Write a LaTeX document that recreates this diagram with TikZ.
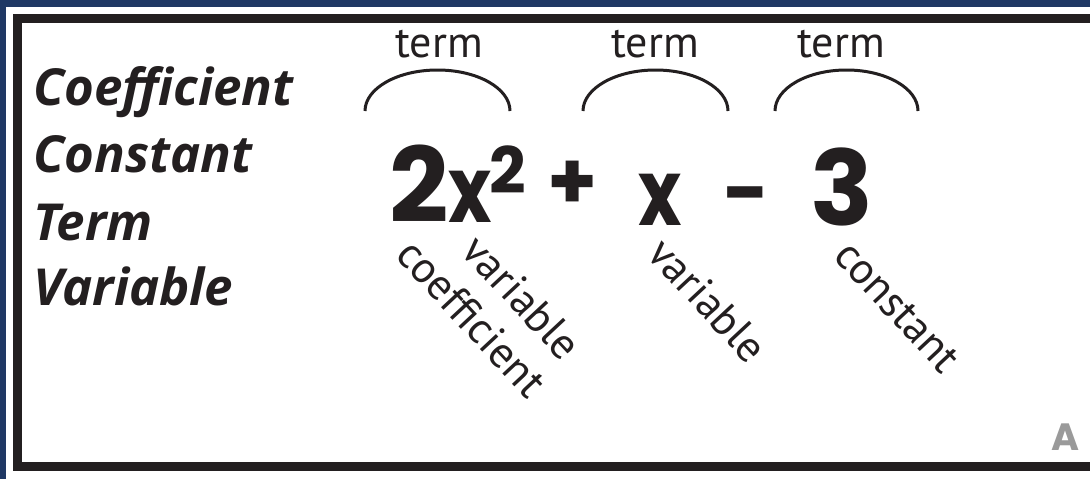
\documentclass[tikz,border=0pt]{standalone}
\usepackage{fontspec}
\setmainfont{PT Sans}
\newfontfamily\keyfont{Open Sans}
\newfontfamily\handfont{Poppins}
\usetikzlibrary{positioning}
\definecolor{navy}{HTML}{1F3864}
\definecolor{ink}{HTML}{231F20}
\definecolor{pagegray}{HTML}{9A9A9A}

\begin{document}
\begin{tikzpicture}[x=1pt, y=-1pt,
  keyword/.style={font=\fontsize{51}{57}\selectfont\keyfont\bfseries\itshape, text=ink, inner sep=0pt, anchor=base west},
  termlabel/.style={font=\fontsize{44}{50}\selectfont, text=ink, inner sep=0pt, anchor=base},
  partlabel/.style={font=\fontsize{44}{50}\selectfont, text=ink, inner sep=0pt, rotate=-47},
  hand/.style={font=\fontsize{#1}{#1}\selectfont\handfont\bfseries, text=ink, inner sep=0pt}]
  \useasboundingbox (0,0) rectangle (1090,479);

  % Page and frame
  \fill[navy] (0,0) rectangle (1090,479);
  \fill[white] (6,7) rectangle (1090,479);
  \draw[ink, line width=9pt] (17.5,18.5) rectangle (1100,466.5);

  % Word list
  \node[keyword] (wcoef) at (33,105) {Coefficient};
  \node[keyword] (wconst) at (33,172) {Constant};
  \node[keyword] (wterm) at (33,240) {Term};
  \node[keyword] (wvar) at (33,305) {Variable};

  % Terms with their arcs
  \node[termlabel] (tone) at (439,57) {term};
  \node[termlabel] (ttwo) at (655,57) {term};
  \node[termlabel] (tthree) at (841,57) {term};
  \foreach \xa/\xb in {365/510, 583/728, 775/918}
    \draw[ink, line width=3pt] (\xa,111) arc[start angle=180, end angle=360,
      x radius={(\xb-\xa)/2}, y radius=41];

  % Expression 2x^2 + x - 3
  \node[hand=104, anchor=base] (ctwo) at (419,222) {2};
  \node[hand=92, anchor=base, xscale=0.8] (xone) at (470,222) {x};
  \node[hand=64, anchor=base] (power) at (508,193) {2};
  \node[hand=80] (plus) at (573,185) {+};
  \node[hand=92, anchor=base, xscale=0.8] (xtwo) at (660,225) {x};
  \node[hand=80] (minus) at (747,204) {-};
  \node[hand=104, anchor=base] (cthree) at (842,225) {3};

  % Parts of the expression
  \node[partlabel] (lcoef) at (472,318) {coefficient};
  \node[partlabel] (lvarone) at (522,297) {variable};
  \node[partlabel] (lvartwo) at (708,300) {variable};
  \node[partlabel] (lconst) at (897,307) {constant};

  % Page letter
  \node[hand=38, anchor=base, text=pagegray] (pageA) at (1065,450) {A};
\end{tikzpicture}
\end{document}
